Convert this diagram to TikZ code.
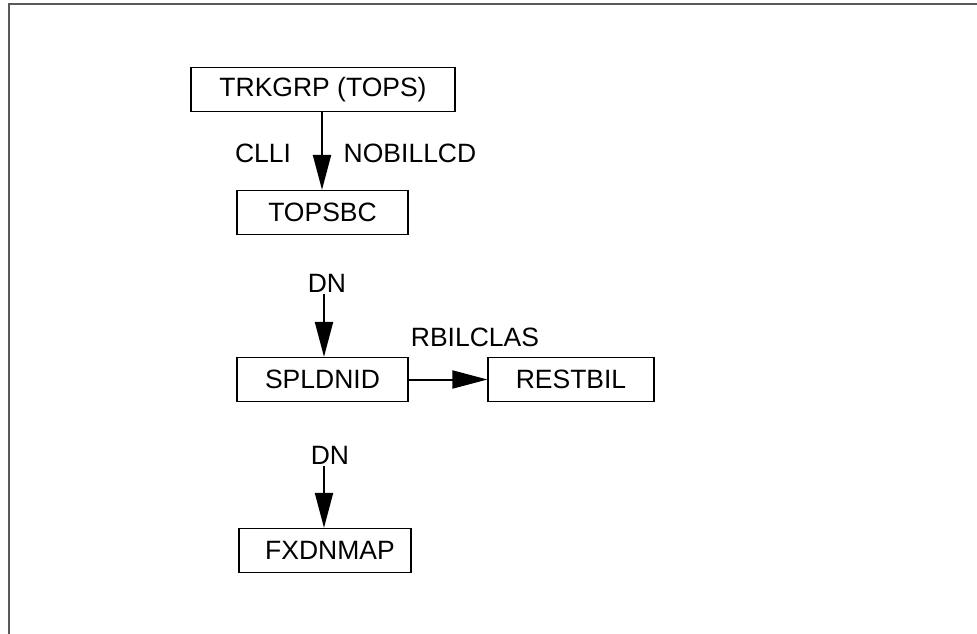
\documentclass[tikz,border=0pt]{standalone}
\usepackage{fontspec}
\setmainfont{Liberation Sans}
\usepackage{tikz}
\usetikzlibrary{positioning,arrows.meta,calc}

\begin{document}
\begin{tikzpicture}[x=1pt, y=-1pt, >={Triangle[length=35pt, width=18pt]},
    tbl/.style={draw, line width=1.2pt, minimum height=44pt, inner sep=0pt, font=\fontsize{26.5}{31}\selectfont},
    lbl/.style={inner sep=2pt, font=\fontsize{26.5}{31}\selectfont},
    flow/.style={->, line width=2pt}]

    % Cadre
    \useasboundingbox (0,0) rectangle (977,634);
    \draw[line width=1.5pt, gray!70!black] (9,634) -- (9,4) -- (977,4);

    % Tables
    \node[tbl, minimum width=264pt] (trkgrp) at (323, 89.5) {TRKGRP (TOPS)};
    \node[tbl, minimum width=171pt] (topsbc) at (322.5, 212.5) {TOPSBC};
    \node[tbl, minimum width=171pt] (spldnid) at (322.5, 379.5) {SPLDNID};
    \node[tbl, minimum width=166pt] (restbil) at (571, 379.5) {RESTBIL};
    \node[tbl, minimum width=172pt] (fxdnmap) at (325, 550.5) {\hspace{10pt}FXDNMAP};

    % Champs
    \node[lbl] (clli) at (263, 153) {CLLI};
    \node[lbl] (nobillcd) at (410, 153) {NOBILLCD};
    \node[lbl] (dnA) at (327, 283) {DN};
    \node[lbl] (rbilclas) at (475, 337) {RBILCLAS};
    \node[lbl] (dnB) at (330, 455) {DN};

    % Fleches
    \draw[flow] (trkgrp.south -| 322,0) -- (topsbc.north -| 322,0);
    \draw[flow] (dnA.south -| 324,0) -- (spldnid.north -| 324,0);
    \draw[flow] (spldnid.east) -- (restbil.west);
    \draw[flow] (dnB.south -| 324,0) -- (fxdnmap.north -| 324,0);
\end{tikzpicture}
\end{document}
